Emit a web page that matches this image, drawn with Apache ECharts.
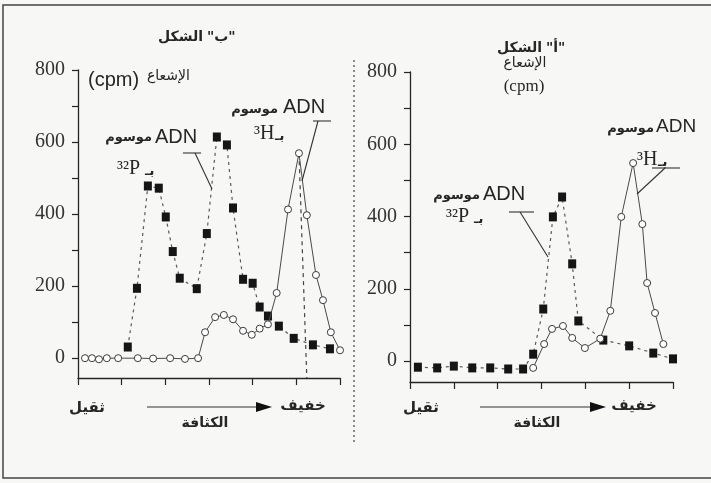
<!DOCTYPE html>
<html>
<head>
<meta charset="utf-8">
<script src="https://cdn.jsdelivr.net/npm/echarts@6/dist/echarts.min.js"></script>
<style>
  html, body { margin: 0; padding: 0; background: #f7f7f5; }
  #chart { width: 711px; height: 483px; }
</style>
</head>
<body>
<div id="chart"></div>
<script>
// الشكل "ب" (left panel) : density position (tick units) and radioactivity (cpm)
const bDensityP32 = [1.14, 1.35, 1.60, 1.85, 2.01, 2.17, 2.33, 2.72, 2.95, 3.18, 3.41, 3.55, 3.78, 4.00, 4.16, 4.35, 4.60, 4.94, 5.38, 5.77]
const bCpmP32 = [31, 194, 478, 472, 392, 296, 222, 193, 346, 614, 592, 417, 219, 208, 142, 117, 89, 55, 37, 26]
const bDensityH3 = [0.16, 0.32, 0.48, 0.66, 0.92, 1.37, 1.72, 2.11, 2.45, 2.75, 2.91, 3.14, 3.34, 3.55, 3.78, 3.98, 4.16, 4.35, 4.55, 4.81, 5.06, 5.24, 5.45, 5.61, 5.79, 6.0]
const bCpmH3 = [0, 0, -3, 0, 0, 0, -1, 0, -2, 0, 72, 114, 120, 108, 76, 65, 82, 94, 181, 413, 569, 397, 231, 161, 72, 22]
// dashed guide under the 3H peak
const bGuideX = [5.06, 5.24]
const bGuideY = [569, -55]

// الشكل "أ" (right panel)
const aDensityP32 = [0.18, 0.62, 1.00, 1.42, 1.83, 2.24, 2.58, 2.81, 3.04, 3.26, 3.47, 3.70, 3.84, 4.41, 5.00, 5.55, 6.0]
const aCpmP32 = [-17, -19, -14, -19, -19, -22, -22, 19, 144, 399, 454, 269, 111, 58, 42, 22, 6]
const aDensityH3 = [2.81, 3.06, 3.24, 3.49, 3.70, 3.99, 4.34, 4.57, 4.82, 5.09, 5.30, 5.41, 5.59, 5.78]
const aCpmH3 = [-19, 47, 89, 97, 64, 36, 62, 139, 399, 548, 379, 216, 133, 47]

const yLabelValues = [0, 200, 400, 600, 800]
const yTickValues = [0, 100, 200, 300, 400, 500, 600, 700, 800]

const pairs = (xs, ys) => xs.map((x, i) => [x, ys[i]])

const ink = '#262626'
const serif = "'Liberation Serif', 'DejaVu Serif', serif"
const sans = "'Liberation Sans', 'DejaVu Sans', sans-serif"
const arabic = "'DejaVu Sans', sans-serif"

function yAxisFor(gridIndex, min) {
  return {
    type: 'value',
    gridIndex: gridIndex,
    min: min,
    max: 800,
    axisLine: { show: true, lineStyle: { color: ink, width: 1.3 } },
    axisTick: { show: true, length: 6, customValues: yTickValues, lineStyle: { color: ink, width: 1.2 } },
    axisLabel: { customValues: yLabelValues, margin: 13, color: '#333', fontFamily: serif, fontSize: 20 },
    splitLine: { show: false }
  }
}

function xAxisFor(gridIndex) {
  return {
    type: 'value',
    gridIndex: gridIndex,
    min: 0,
    max: 6,
    interval: 1,
    axisLine: { show: true, onZero: false, lineStyle: { color: ink, width: 1.3 } },
    axisTick: { show: true, inside: false, length: 7, lineStyle: { color: ink, width: 1.2 } },
    axisLabel: { show: false },
    splitLine: { show: false }
  }
}

function squares(xi, yi, data) {
  return {
    type: 'line',
    xAxisIndex: xi,
    yAxisIndex: yi,
    data: data,
    symbol: 'rect',
    symbolSize: [8, 9],
    clip: false,
    itemStyle: { color: '#151515' },
    lineStyle: { color: '#5a5a5a', width: 1.2, type: [3, 4] },
    z: 3
  }
}

function circles(xi, yi, data) {
  return {
    type: 'line',
    xAxisIndex: xi,
    yAxisIndex: yi,
    data: data,
    symbol: 'circle',
    symbolSize: 7,
    showAllSymbol: true,
    clip: false,
    itemStyle: { color: '#fff', borderColor: '#3a3a3a', borderWidth: 1 },
    lineStyle: { color: '#4a4a4a', width: 1 },
    z: 4
  }
}

function txt(text, x, y, size, family, align, bold) {
  return {
    type: 'text',
    x: x,
    y: y,
    style: {
      text: text,
      fill: ink,
      font: (bold ? 'bold ' : '') + size + 'px ' + family,
      textAlign: align || 'center',
      textVerticalAlign: 'middle'
    },
    z: 10
  }
}

function seg(x1, y1, x2, y2, dash) {
  return {
    type: 'line',
    shape: { x1: x1, y1: y1, x2: x2, y2: y2 },
    style: { stroke: '#333', lineWidth: 1.1, lineDash: dash || null },
    z: 10
  }
}

function arrowHead(tipX, y) {
  return {
    type: 'polygon',
    shape: { points: [[tipX - 16, y - 5], [tipX, y], [tipX - 16, y + 5]] },
    style: { fill: '#111' },
    z: 10
  }
}

// isotope label: Latin part on the left, "بـ" on its right
function isotope(sym, x, y) {
  const w = sym.length > 2 ? 26 : 19
  return [
    txt(sym, x, y, 20, serif, 'left'),
    txt('بـ', x + w + 2, y + 3, 13, arabic, 'left', true)
  ]
}

const chart = echarts.init(document.getElementById('chart'))

const option = {
  backgroundColor: '#f7f7f5',
  animation: false,
  grid: [
    { left: 78, right: 371, top: 70, bottom: 105 },
    { left: 410, right: 38, top: 72, bottom: 101 }
  ],
  xAxis: [xAxisFor(0), xAxisFor(1)],
  yAxis: [yAxisFor(0, -55), yAxisFor(1, -58)],
  series: [
    {
      type: 'line',
      xAxisIndex: 0,
      yAxisIndex: 0,
      data: pairs(bGuideX, bGuideY),
      symbol: 'none',
      clip: false,
      lineStyle: { color: '#444', width: 1.2, type: [4, 4] },
      z: 2
    },
    squares(0, 0, pairs(bDensityP32, bCpmP32)),
    circles(0, 0, pairs(bDensityH3, bCpmH3)),
    squares(1, 1, pairs(aDensityP32, aCpmP32)),
    circles(1, 1, pairs(aDensityH3, aCpmH3))
  ],
  graphic: [
    // frame and panel divider
    {
      type: 'rect',
      shape: { x: 3, y: 5, width: 712, height: 473 },
      style: { fill: null, stroke: '#444', lineWidth: 1.5 },
      z: 1
    },
    seg(354, 60, 354, 442, [2, 3]),

    // left panel
    txt('الشكل', 203, 37, 14, arabic, 'right', true),
    txt('"ب"', 207, 37, 14, arabic, 'left', true),
    txt('(cpm)', 88, 80, 20, sans, 'left'),
    txt('الإشعاع', 147, 76, 14, arabic, 'left'),
    txt('موسوم', 278, 110, 13, arabic, 'right', true),
    txt('ADN', 283, 107, 20, sans, 'left'),
    ...isotope('³H', 254, 134),
    seg(313, 121, 331, 121),
    seg(318, 121, 302, 181),
    txt('موسوم', 152, 138, 13, arabic, 'right', true),
    txt('ADN', 155, 137, 20, sans, 'left'),
    ...isotope('³²P', 117, 169),
    seg(183, 153, 201, 153),
    seg(195, 153, 212, 189),
    txt('ثقيل', 87, 408, 15, arabic, 'center', true),
    seg(147, 407, 258, 407),
    arrowHead(272, 407),
    txt('خفيف', 303, 406, 15, arabic, 'center', true),
    txt('الكثافة', 205, 423, 14, arabic, 'center', true),

    // right panel
    txt('الشكل', 542, 48, 14, arabic, 'right', true),
    txt('"أ"', 546, 48, 14, arabic, 'left', true),
    txt('الإشعاع', 525, 63, 14, arabic, 'center'),
    txt('(cpm)', 524, 87, 17, serif, 'center'),
    txt('موسوم', 654, 129, 13, arabic, 'right', true),
    txt('ADN', 656, 127, 19, sans, 'left'),
    ...isotope('³H', 637, 160),
    seg(652, 168, 680, 168),
    seg(665, 168, 637, 194),
    txt('موسوم', 480, 196, 13, arabic, 'right', true),
    txt('ADN', 483, 194, 20, sans, 'left'),
    ...isotope('³²P', 446, 217),
    seg(509, 212, 534, 212),
    seg(520, 212, 548, 257),
    txt('ثقيل', 421, 408, 15, arabic, 'center', true),
    seg(480, 407, 592, 407),
    arrowHead(606, 407),
    txt('خفيف', 634, 406, 15, arabic, 'center', true),
    txt('الكثافة', 537, 423, 14, arabic, 'center', true)
  ]
}

chart.setOption(option)
</script>
</body>
</html>
